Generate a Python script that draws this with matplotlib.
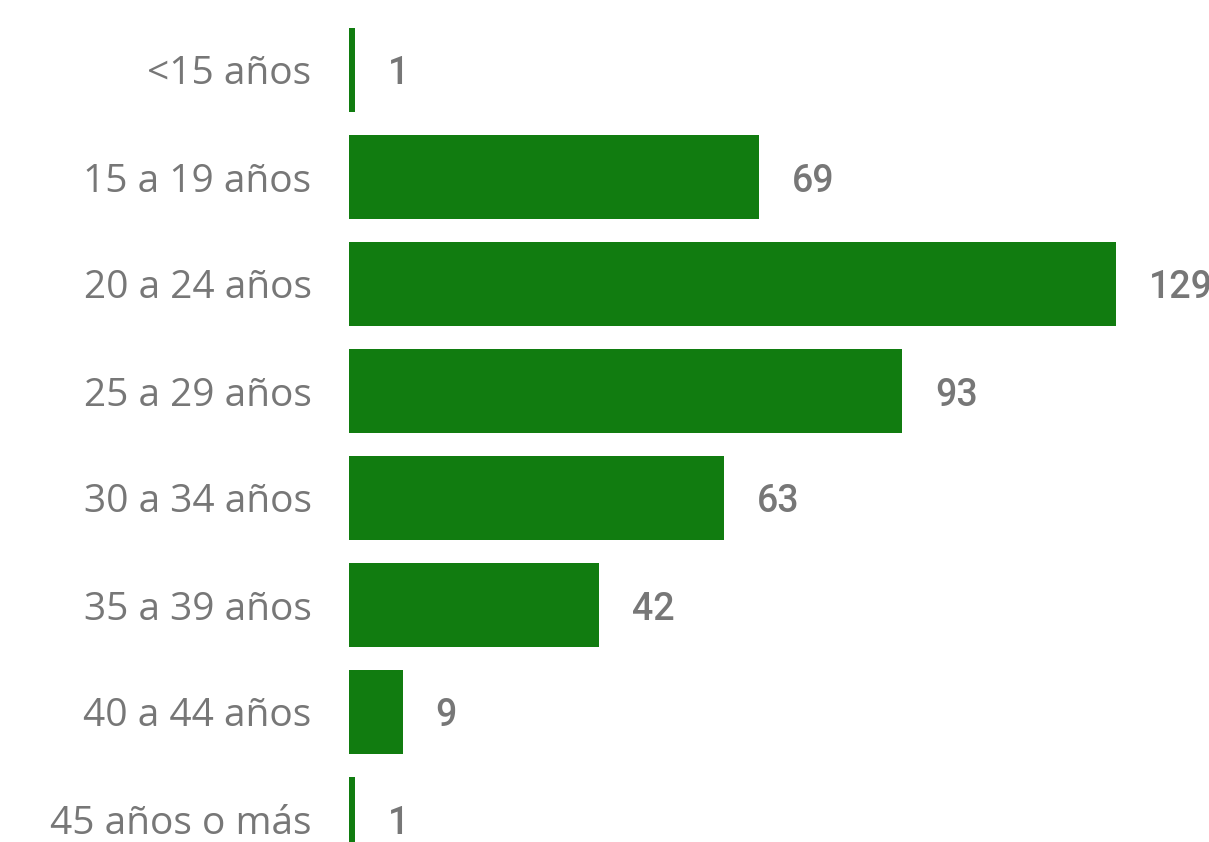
import matplotlib.pyplot as plt

# data
grupos = ["<15 años", "15 a 19 años", "20 a 24 años", "25 a 29 años",
          "30 a 34 años", "35 a 39 años", "40 a 44 años", "45 años o más"]
casos = [1, 69, 129, 93, 63, 42, 9, 1]

verde = "#117C10"
gris = "#777777"

fig = plt.figure(figsize=(12.09, 8.42), dpi=100)
# axes starts where the bars start and runs off the right / bottom edge
ax = fig.add_axes([349 / 1209, 0, 860 / 1209, 1])

pos = list(range(len(grupos)))
ax.barh(pos, casos, height=0.78, color=verde)

ax.set_xlim(0, 860 / 5.946)
ax.set_ylim((842 - 70) / 107, -70 / 107)

ax.set_yticks(pos)
ax.set_yticklabels(grupos, fontsize=28, color=gris, family="Open Sans")
ax.tick_params(axis="y", length=0, pad=27)
ax.set_xticks([])
for s in ax.spines.values():
    s.set_visible(False)

# value labels next to each bar
for i, v in zip(pos, casos):
    ax.annotate(str(v), (v, i), xytext=(33, -4), textcoords="offset pixels",
                va="center", ha="left", fontsize=27, color=gris,
                family="Roboto", fontweight="medium", annotation_clip=False)

fig.savefig("out.png", dpi=100)
